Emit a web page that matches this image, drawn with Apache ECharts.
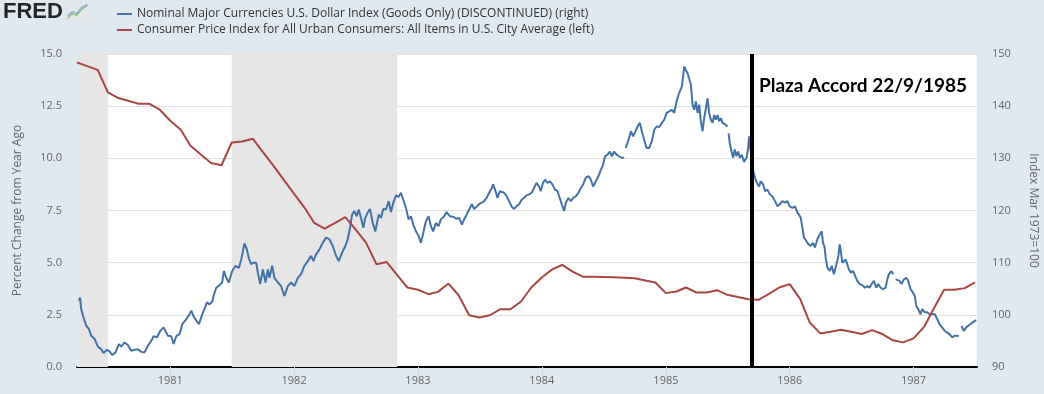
<!DOCTYPE html>
<html><head><meta charset="utf-8">
<script src="https://cdn.jsdelivr.net/npm/echarts@6/dist/echarts.min.js"></script>
<style>html,body{margin:0;padding:0;background:#e1e9f0;} #c{width:1044px;height:394px;}</style>
</head><body><div id="c"></div>
<script>
// ---------- data ----------
const seriesNames = [
  'Nominal Major Currencies U.S. Dollar Index (Goods Only) (DISCONTINUED) (right)',
  'Consumer Price Index for All Urban Consumers: All Items in U.S. City Average (left)'
];
const leftAxisName = 'Percent Change from Year Ago';
const rightAxisName = 'Index Mar 1973=100';
const leftAxisRange = [0, 15, 2.5];
const rightAxisRange = [90, 150, 10];
const xAxisRange = ['1980-04-01', '1987-07-07'];

// CPI, percent change from year ago, monthly from April 1980
const cpiFirstMonth = [1980, 4];
const cpiValues = [
  14.59, 14.42, 14.24, 13.16, 12.89, 12.75, 12.61, 12.61, 12.33,
  11.80, 11.37, 10.61, 10.18, 9.78, 9.67, 10.76, 10.81, 10.94, 10.30, 9.65, 8.98,
  8.30, 7.63, 6.91, 6.63, 6.90, 7.18, 6.60, 5.96, 4.92, 5.03, 4.40, 3.81,
  3.70, 3.49, 3.60, 4.00, 3.44, 2.48, 2.37, 2.48, 2.77, 2.77, 3.14, 3.81,
  4.29, 4.68, 4.89, 4.57, 4.33, 4.32, 4.31, 4.30, 4.28, 4.25, 4.15, 4.05,
  3.54, 3.62, 3.81, 3.57, 3.57, 3.68, 3.46, 3.35, 3.25, 3.22, 3.50, 3.81,
  3.97, 3.25, 2.13, 1.61, 1.69, 1.78, 1.69, 1.58, 1.77, 1.58, 1.28, 1.18,
  1.37, 1.92, 2.78, 3.70, 3.70, 3.78, 4.05
];

// Dollar index (goods only): [decimal year, index]; null = gap in the data
const usdPoints = [
  [1980.264,102.7],[1980.274,103.3],[1980.282,101.1],[1980.301,99.5],[1980.323,97.9],[1980.344,97.3],[1980.363,96.0],[1980.390,95.4],[1980.417,93.9],[1980.444,93.4],[1980.462,92.7],[1980.490,93.3],[1980.510,93.0],[1980.532,92.3],[1980.559,92.8],[1980.586,94.4],[1980.605,93.9],[1980.631,94.7],[1980.659,94.2],[1980.685,93.1],[1980.712,93.3],[1980.740,93.4],[1980.766,92.9],[1980.793,92.8],[1980.820,94.1],[1980.847,95.0],[1980.865,95.9],[1980.893,95.7],[1980.919,96.9],[1980.946,97.6],[1980.962,97.3],[1980.981,96.0],
  [1981.008,95.9],[1981.027,94.4],[1981.048,95.9],[1981.075,96.3],[1981.097,98.2],[1981.123,99.0],[1981.151,99.9],[1981.169,100.8],[1981.188,99.7],[1981.210,98.9],[1981.231,98.2],[1981.258,100.1],[1981.277,101.2],[1981.296,102.4],[1981.317,102.0],[1981.339,102.5],[1981.349,103.6],[1981.371,105.2],[1981.398,105.7],[1981.419,106.2],[1981.433,108.4],[1981.452,107.1],[1981.473,106.2],[1981.500,108.4],[1981.527,109.4],[1981.554,109.0],[1981.573,110.6],[1981.599,113.7],[1981.619,112.5],[1981.635,110.8],[1981.653,109.7],[1981.672,110.0],[1981.694,110.0],[1981.707,108.1],[1981.726,105.9],[1981.748,108.7],[1981.769,106.2],[1981.788,108.7],[1981.801,107.1],[1981.823,109.4],[1981.841,107.1],[1981.869,106.2],[1981.895,105.5],[1981.922,103.6],[1981.949,105.5],[1981.976,106.2],
  [1982.002,105.5],[1982.030,107.1],[1982.056,107.8],[1982.083,109.4],[1982.110,110.3],[1982.137,111.3],[1982.156,110.3],[1982.177,111.6],[1982.204,112.5],[1982.231,113.8],[1982.258,114.8],[1982.285,114.5],[1982.312,113.2],[1982.339,111.3],[1982.360,110.3],[1982.387,111.9],[1982.414,113.2],[1982.433,114.5],[1982.452,116.7],[1982.468,119.2],[1982.486,119.9],[1982.506,118.9],[1982.522,120.2],[1982.540,118.6],[1982.559,116.7],[1982.575,118.6],[1982.594,119.6],[1982.613,120.3],[1982.635,117.6],[1982.656,116.0],[1982.683,119.2],[1982.702,118.6],[1982.720,120.3],[1982.742,120.2],[1982.764,121.8],[1982.782,119.7],[1982.801,121.5],[1982.823,122.9],[1982.844,122.6],[1982.863,123.4],[1982.881,122.1],[1982.903,120.5],[1982.925,118.3],[1982.944,118.9],[1982.962,117.3],[1982.984,116.0],
  [1983.006,115.1],[1983.024,113.8],[1983.043,115.7],[1983.065,118.0],[1983.086,118.9],[1983.105,117.0],[1983.123,116.0],[1983.145,117.6],[1983.167,117.0],[1983.185,118.3],[1983.212,118.9],[1983.231,119.7],[1983.258,118.9],[1983.285,118.8],[1983.312,118.4],[1983.333,118.6],[1983.355,117.3],[1983.373,118.3],[1983.393,119.2],[1983.414,120.2],[1983.435,121.2],[1983.454,120.3],[1983.473,120.7],[1983.494,121.2],[1983.516,121.5],[1983.535,121.8],[1983.554,122.4],[1983.575,123.4],[1983.597,124.3],[1983.607,125.0],[1983.623,124.0],[1983.643,122.4],[1983.661,123.7],[1983.677,124.0],[1983.696,123.4],[1983.715,122.8],[1983.736,121.8],[1983.758,120.7],[1983.777,120.3],[1983.796,120.8],[1983.817,121.2],[1983.839,122.1],[1983.857,122.4],[1983.877,122.9],[1983.898,123.1],[1983.919,123.4],[1983.938,124.3],[1983.957,125.3],[1983.978,124.6],[1983.992,123.7],
  [1984.010,125.3],[1984.027,125.9],[1984.046,125.3],[1984.065,125.6],[1984.086,125.0],[1984.107,124.0],[1984.127,123.7],[1984.145,122.4],[1984.161,121.2],[1984.180,119.9],[1984.194,121.5],[1984.215,122.4],[1984.234,121.8],[1984.252,122.4],[1984.274,122.7],[1984.296,123.4],[1984.315,124.3],[1984.333,125.0],[1984.355,126.3],[1984.377,126.6],[1984.395,125.9],[1984.414,124.6],[1984.435,125.6],[1984.457,126.6],[1984.476,127.8],[1984.494,128.8],[1984.510,130.4],[1984.530,130.7],[1984.548,131.3],[1984.565,130.4],[1984.583,131.3],[1984.602,130.7],[1984.623,130.4],[1984.645,130.1],[1984.664,130.1],null,[1984.677,132.0],[1984.699,133.6],[1984.718,135.2],[1984.736,134.2],[1984.752,134.5],[1984.772,136.1],[1984.790,136.8],[1984.806,135.2],[1984.825,133.6],[1984.844,132.0],[1984.865,132.0],[1984.887,133.3],[1984.906,135.5],[1984.925,136.1],[1984.946,136.0],[1984.968,136.8],[1984.986,137.4],
  [1985.006,138.7],[1985.027,139.0],[1985.048,139.3],[1985.067,138.7],[1985.086,140.9],[1985.102,142.2],[1985.113,142.5],[1985.129,143.8],[1985.140,146.0],[1985.148,147.6],[1985.161,146.9],[1985.175,146.3],[1985.188,146.0],[1985.202,144.1],[1985.215,140.3],[1985.228,139.3],[1985.242,140.9],[1985.256,138.7],[1985.269,140.3],[1985.282,137.1],[1985.296,135.2],[1985.309,137.7],[1985.323,139.6],[1985.336,141.5],[1985.349,138.7],[1985.363,137.4],[1985.377,136.8],[1985.390,138.3],[1985.403,137.4],[1985.417,138.3],[1985.430,137.1],[1985.444,137.7],[1985.457,136.8],[1985.470,137.1],[1985.484,136.4],[1985.498,136.1],null,[1985.506,134.8],[1985.516,132.9],[1985.530,131.3],[1985.543,130.1],[1985.556,131.7],[1985.570,130.4],[1985.583,131.3],[1985.597,130.1],[1985.613,130.7],[1985.631,129.3],[1985.651,130.1],[1985.664,132.0],[1985.672,134.2],[1985.700,128.0],[1985.720,126.2],[1985.734,125.3],[1985.752,124.6],[1985.766,125.6],[1985.785,125.0],[1985.801,123.7],[1985.820,124.0],[1985.839,123.1],[1985.860,122.7],[1985.881,121.8],[1985.901,120.8],[1985.919,121.2],[1985.941,121.8],[1985.962,121.5],[1985.981,121.8],
  [1986.000,120.8],[1986.022,120.5],[1986.043,120.8],[1986.062,119.6],[1986.075,119.2],[1986.089,118.6],[1986.102,116.7],[1986.115,114.8],[1986.135,114.1],[1986.151,113.5],[1986.169,113.2],[1986.188,113.8],[1986.204,112.9],[1986.223,114.5],[1986.242,115.4],[1986.258,116.0],[1986.269,113.8],[1986.282,112.9],[1986.290,111.0],[1986.304,109.1],[1986.323,108.4],[1986.339,109.4],[1986.357,107.8],[1986.377,109.7],[1986.393,111.3],[1986.403,113.5],[1986.411,112.5],[1986.425,110.0],[1986.438,109.7],[1986.452,110.6],[1986.465,110.3],[1986.478,108.7],[1986.492,108.1],[1986.511,108.4],[1986.527,107.5],[1986.546,106.5],[1986.565,105.9],[1986.586,105.7],[1986.607,105.2],[1986.627,105.5],[1986.645,105.2],[1986.661,105.9],[1986.680,106.5],[1986.699,105.2],[1986.715,105.9],[1986.734,105.2],[1986.752,104.9],[1986.774,105.2],[1986.788,106.8],[1986.801,107.8],[1986.820,108.4],[1986.836,107.8],null,[1986.855,106.8],[1986.869,107.1],[1986.887,106.5],[1986.903,105.9],[1986.922,106.8],[1986.941,107.1],[1986.957,106.5],[1986.976,104.9],[1986.994,104.3],
  [1987.010,103.6],[1987.022,101.7],[1987.038,101.1],[1987.056,100.1],[1987.070,101.1],[1987.091,100.5],[1987.110,100.5],[1987.129,100.1],[1987.151,100.1],[1987.172,100.1],[1987.191,99.2],[1987.210,98.2],[1987.231,97.6],[1987.252,96.9],[1987.272,96.6],[1987.290,96.3],[1987.312,95.7],[1987.333,96.0],[1987.352,96.0],[1987.365,95.9],null,[1987.387,97.9],[1987.406,96.9],[1987.425,97.6],[1987.446,98.0],[1987.468,98.4],[1987.486,98.7],[1987.506,99.0]
];

const recessions = [['1980-01-01', '1980-07-01'], ['1981-07-01', '1982-11-01']];
const plazaYear = 1985.694;
const plazaText = 'Plaza Accord 22/9/1985';

// ---------- helpers ----------
function yearToMs(t) {
  const y = Math.floor(t);
  const a = Date.UTC(y, 0, 1), b = Date.UTC(y + 1, 0, 1);
  return a + (t - y) * (b - a);
}
const xMin = Date.parse(xAxisRange[0] + 'T00:00:00Z');
const xMax = Date.parse(xAxisRange[1] + 'T00:00:00Z');

const cpiData = cpiValues.map((v, i) => {
  const m = cpiFirstMonth[1] - 1 + i;
  return [Date.UTC(cpiFirstMonth[0] + Math.floor(m / 12), m % 12, 1), v];
});
const usdData = [];
usdPoints.forEach((p, i) => {
  if (p === null) {
    usdData.push([yearToMs(usdPoints[i - 1][0]) + 3600000, '-']);
  } else {
    usdData.push([yearToMs(p[0]), p[1]]);
  }
});
const recessionAreas = recessions.map(r => [
  { xAxis: Math.max(xMin, Date.parse(r[0] + 'T00:00:00Z')) },
  { xAxis: Math.min(xMax, Date.parse(r[1] + 'T00:00:00Z')) }
]);

const chart = echarts.init(document.getElementById('c'), null, { renderer: 'canvas' });
const FONT = '"Open Sans", sans-serif';
const YEAR = 365 * 24 * 3600 * 1000;

chart.setOption({
  useUTC: true,
  animation: false,
  backgroundColor: '#e1e9f0',
  color: ['#4572a7', '#aa4643'],
  grid: {
    left: 77, right: 67, top: 54, bottom: 27, show: true, backgroundColor: '#ffffff', borderWidth: 0,
    containLabel: false, outerBoundsMode: 'none'
  },
  legend: {
    orient: 'vertical', left: 117, top: 6, itemGap: 0, padding: 0,
    itemWidth: 15, itemHeight: 2, icon: 'rect',
    textStyle: { fontFamily: FONT, fontSize: 12, color: '#333', lineHeight: 16 },
    data: seriesNames
  },
  xAxis: {
    type: 'time', min: xMin, max: xMax,
    minInterval: YEAR, maxInterval: YEAR + 86400000 * 2,
    axisLine: { show: true, lineStyle: { color: '#000', width: 2 } },
    axisTick: { show: true, length: 8, lineStyle: { color: '#ccd6eb', width: 1 } },
    axisLabel: {
      fontFamily: FONT, fontSize: 11, color: '#666', margin: 8,
      showMinLabel: false, showMaxLabel: false,
      formatter: v => String(new Date(v).getUTCFullYear())
    },
    splitLine: { show: false }
  },
  yAxis: [
    {
      type: 'value', position: 'left', min: leftAxisRange[0], max: leftAxisRange[1], interval: leftAxisRange[2],
      name: leftAxisName, nameLocation: 'middle', nameGap: 53, nameRotate: 90,
      nameTextStyle: { fontFamily: FONT, fontSize: 12, color: '#666' },
      axisLine: { show: false }, axisTick: { show: false },
      axisLabel: { fontFamily: FONT, fontSize: 11, color: '#666', margin: 15, formatter: v => v.toFixed(1) },
      splitLine: { show: true, lineStyle: { color: '#e0e0e0', width: 1 } }
    },
    {
      type: 'value', position: 'right', min: rightAxisRange[0], max: rightAxisRange[1], interval: rightAxisRange[2],
      name: rightAxisName, nameLocation: 'middle', nameGap: 50, nameRotate: -90,
      nameTextStyle: { fontFamily: FONT, fontSize: 12, color: '#666' },
      axisLine: { show: false }, axisTick: { show: false },
      axisLabel: { fontFamily: FONT, fontSize: 11, color: '#666', margin: 15 },
      splitLine: { show: false }
    }
  ],
  series: [
    {
      name: seriesNames[0], type: 'line', yAxisIndex: 1, data: usdData,
      showSymbol: false, symbol: 'none', connectNulls: false,
      lineStyle: { color: '#4572a7', width: 2 }, z: 3,
      markArea: {
        silent: true, itemStyle: { color: '#e6e6e6' }, data: recessionAreas
      },
      markLine: {
        silent: true, symbol: ['none', 'none'], label: { show: false },
        lineStyle: { color: '#000', width: 4, type: 'solid' },
        data: [{ xAxis: yearToMs(plazaYear) }], z: 10
      }
    },
    {
      name: seriesNames[1], type: 'line', yAxisIndex: 0, data: cpiData,
      showSymbol: false, symbol: 'none',
      lineStyle: { color: '#aa4643', width: 2 }, z: 4
    }
  ],
  graphic: [
    {
      type: 'text', left: 3, top: 1,
      style: { text: 'FRED', font: 'bold 22px "Liberation Sans", Arial, sans-serif', fill: '#262626' }
    },
    {
      type: 'group', left: 65, top: 2,
      children: [
        { type: 'rect', shape: { x: 0, y: 0, width: 24, height: 19, r: 2 }, style: { fill: '#e4e7ea' } },
        { type: 'polyline', shape: { points: [[2, 16], [7, 11], [11, 13], [16, 7], [22, 3]] }, style: { stroke: '#8bbf6a', lineWidth: 1.3, fill: null } },
        { type: 'polyline', shape: { points: [[2, 13], [7, 9], [11, 11], [16, 5], [22, 2]] }, style: { stroke: '#7fa6cf', lineWidth: 1.1, fill: null } }
      ]
    },
    {
      type: 'text', left: 759, top: 76, z: 20,
      style: { text: plazaText, font: 'bold 19px Lato, "Open Sans", sans-serif', fill: '#000' }
    }
  ]
});
</script>
</body></html>
